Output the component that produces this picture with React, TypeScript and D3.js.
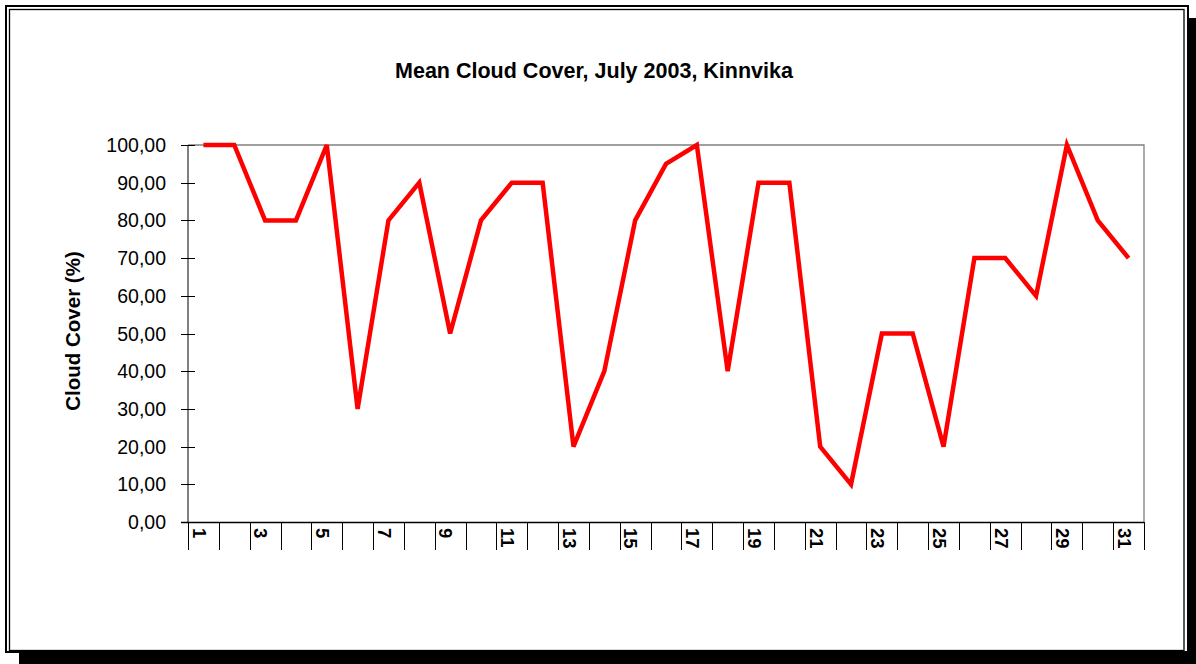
import * as React from 'react'
import * as d3 from 'd3'

const days: number[] = [
    1, 2, 3, 4, 5, 6, 7, 8, 9, 10, 11, 12, 13, 14, 15, 16,
    17, 18, 19, 20, 21, 22, 23, 24, 25, 26, 27, 28, 29, 30, 31,
]

const cloudCover: number[] = [
    100, 100, 80, 80, 100, 30, 80, 90, 50, 80, 90, 90, 20, 40, 80, 95,
    100, 40, 90, 90, 20, 10, 50, 50, 20, 70, 70, 60, 100, 80, 70,
]

const yTicks: number[] = [0, 10, 20, 30, 40, 50, 60, 70, 80, 90, 100]

const title = 'Mean Cloud Cover, July 2003, Kinnvika'
const yTitle = 'Cloud Cover (%)'

const fmt = (v: number) => v.toFixed(2).replace('.', ',')

export default class App extends React.Component<{}, {}> {
    private node: SVGSVGElement | null = null
    private plot = { left: 188, top: 145, right: 1144, bottom: 522 }

    componentDidMount() {
        this.createChart()
    }

    componentDidUpdate() {
        this.createChart()
    }

    private createChart(): void {
        if (!this.node)
            return

        const p = this.plot
        const svg = d3.select(this.node)
        svg.selectAll('*').remove()

        // frame with shadow
        svg.append('rect')
            .attr('x', 19).attr('y', 18)
            .attr('width', 1196 - 19).attr('height', 664 - 18)
            .attr('fill', '#000')
        svg.append('rect')
            .attr('x', 6).attr('y', 6)
            .attr('width', 1182).attr('height', 646)
            .attr('fill', '#fff')
            .attr('stroke', '#000')
            .attr('stroke-width', 2)
        svg.append('rect')
            .attr('x', 9.5).attr('y', 9.5)
            .attr('width', 1174.5).attr('height', 641)
            .attr('fill', 'none')
            .attr('stroke', '#000')
            .attr('stroke-width', 1.3)

        const x = d3.scaleBand<number>()
            .domain(days)
            .range([p.left, p.right])
            .padding(0)

        const y = d3.scaleLinear()
            .domain([0, 100])
            .range([p.bottom, p.top])

        const cx = (d: number) => (x(d) as number) + x.bandwidth() / 2

        // title
        svg.append('text')
            .attr('x', 594)
            .attr('y', 78)
            .attr('text-anchor', 'middle')
            .attr('font-family', 'Arial, "Liberation Sans", sans-serif')
            .attr('font-weight', 'bold')
            .attr('font-size', 21.5)
            .text(title)

        // plot border (top/right gray)
        svg.append('path')
            .attr('d', `M${p.left},${p.top}H${p.right}V${p.bottom}`)
            .attr('fill', 'none')
            .attr('stroke', '#808080')
            .attr('stroke-width', 1.3)

        // y axis
        const yAxis = svg.append('g')
        yAxis.append('line')
            .attr('x1', p.left).attr('x2', p.left)
            .attr('y1', p.top).attr('y2', p.bottom)
            .attr('stroke', '#000')
        yAxis.selectAll('line.tick')
            .data(yTicks)
            .enter().append('line')
            .attr('class', 'tick')
            .attr('x1', p.left - 7).attr('x2', p.left + 7)
            .attr('y1', d => Math.round(y(d)) + 0.5)
            .attr('y2', d => Math.round(y(d)) + 0.5)
            .attr('stroke', '#000')
        yAxis.selectAll('text')
            .data(yTicks)
            .enter().append('text')
            .attr('x', 166)
            .attr('y', d => y(d))
            .attr('dy', '0.36em')
            .attr('text-anchor', 'end')
            .attr('font-family', 'Arial, "Liberation Sans", sans-serif')
            .attr('font-size', 19.5)
            .attr('fill', '#000')
            .text(d => fmt(d))

        svg.append('text')
            .attr('transform', `translate(80,331) rotate(-90)`)
            .attr('text-anchor', 'middle')
            .attr('font-family', 'Arial, "Liberation Sans", sans-serif')
            .attr('font-weight', 'bold')
            .attr('font-size', 20.5)
            .text(yTitle)

        // x axis
        const xAxis = svg.append('g')
        xAxis.append('line')
            .attr('x1', p.left - 7).attr('x2', p.right)
            .attr('y1', p.bottom + 0.5).attr('y2', p.bottom + 0.5)
            .attr('stroke', '#000')
            .attr('stroke-width', 1.3)
        const bounds = days.map(d => x(d) as number).concat([p.right])
        xAxis.selectAll('line.tick')
            .data(bounds)
            .enter().append('line')
            .attr('class', 'tick')
            .attr('x1', d => Math.round(d) + 0.5).attr('x2', d => Math.round(d) + 0.5)
            .attr('y1', p.bottom).attr('y2', p.bottom + 28)
            .attr('stroke', '#000')
        xAxis.selectAll('text')
            .data(days.filter(d => d % 2 === 1))
            .enter().append('text')
            .attr('transform', d => `translate(${cx(d) - 4},${p.bottom + 6}) rotate(90)`)
            .attr('dy', '0.36em')
            .attr('text-anchor', 'start')
            .attr('font-family', 'Arial, "Liberation Sans", sans-serif')
            .attr('font-weight', 'bold')
            .attr('font-size', 18.5)
            .text(d => String(d))

        // line
        const line = d3.line<number>()
            .x((d, i) => cx(days[i]))
            .y(d => y(d))

        svg.append('path')
            .datum(cloudCover)
            .attr('fill', 'none')
            .attr('stroke', '#ff0000')
            .attr('stroke-width', 4.5)
            .attr('stroke-linejoin', 'miter')
            .attr('stroke-linecap', 'butt')
            .attr('d', line)
    }

    render() {
        return (
            <svg
                width={1196}
                height={664}
                style={{ position: 'absolute', left: 0, top: 0, display: 'block' }}
                ref={node => { this.node = node }} />
        )
    }
}
